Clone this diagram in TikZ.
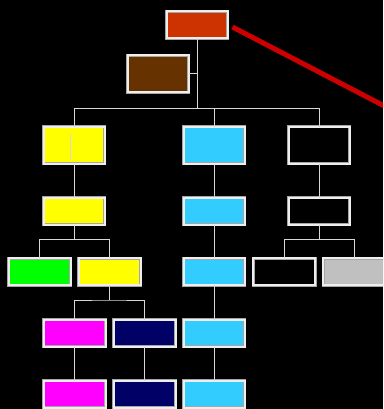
\documentclass[tikz,border=0pt]{standalone}
\usetikzlibrary{calc}
\definecolor{cTop}{HTML}{CC3300}
\definecolor{cBrown}{HTML}{663300}
\definecolor{cYel}{HTML}{FFFF00}
\definecolor{cCyan}{HTML}{33CCFF}
\definecolor{cGreen}{HTML}{00FF00}
\definecolor{cMag}{HTML}{FF00FF}
\definecolor{cNavy}{HTML}{000066}
\definecolor{cGray}{HTML}{C0C0C0}
\definecolor{cBorder}{HTML}{EEEEEE}
\definecolor{cLine}{HTML}{D8D8D8}
\definecolor{cRed}{HTML}{CC0000}
\tikzset{
  box/.style={draw=gray!70, double=cBorder, double distance=2pt, line width=0.5pt,
    inner sep=0pt, outer sep=0pt, minimum width=61pt, minimum height=27pt},
  tall/.style={minimum height=37pt},
  conn/.style={draw=cLine, line width=1pt},
  redline/.style={draw=cRed, line width=5pt}
}
\begin{document}
\begin{tikzpicture}[x=1pt,y=-1pt]
\useasboundingbox (0,0) rectangle (383,409);
\clip (0,0) rectangle (383,409);
\fill[black] (0,0) rectangle (383,409);
% nodes
\node[box, fill=cTop] (top) at (197,25) {};
\node[box, tall, fill=cBrown] (brown) at (158,74) {};
\node[box, tall, fill=cYel] (y1) at (74,145) {};
\node[box, tall, fill=cCyan] (c1) at (214,145) {};
\node[box, tall, fill=black] (k1) at (319,145) {};
\node[box, fill=cYel] (y2) at (74,211) {};
\node[box, fill=cCyan] (c2) at (214,211) {};
\node[box, fill=black] (k2) at (319,211) {};
\node[box, minimum width=62pt, fill=cGreen] (g3) at (39.5,271.5) {};
\node[box, minimum width=62pt, fill=cYel] (y3) at (109.5,271.5) {};
\node[box, fill=cCyan] (c3) at (214,271.5) {};
\node[box, minimum width=62pt, fill=black] (k3) at (284,271.5) {};
\node[box, minimum width=62pt, fill=cGray] (s3) at (354,271.5) {};
\node[box, minimum width=62pt, fill=cMag] (m4) at (74.5,333) {};
\node[box, minimum width=62pt, fill=cNavy] (n4) at (144.5,333) {};
\node[box, fill=cCyan] (c4) at (214,333) {};
\node[box, minimum width=62pt, fill=cMag] (m5) at (74.5,394) {};
\node[box, minimum width=62pt, fill=cNavy] (n5) at (144.5,394) {};
\node[box, fill=cCyan] (c5) at (214,394) {};
% connectors
\draw[conn] (top.south) -- ++(0,70) coordinate (j0);
\draw[conn] (brown.east) -- (brown.east -| top.south);
\draw[conn] (y1.north) |- (j0) -| (k1.north);
\draw[conn] (c1.north) -- (c1.north |- j0);
\draw[conn] ($(y1.north)+(-4,7)$) -- ($(y1.south)+(-4,-4)$);
\draw[conn] (y1.south) -- (y2.north);
\draw[conn] (c1.south) -- (c2.north);
\draw[conn] (k1.south) -- (k2.north);
\draw[conn] (y2.south) -- ++(0,15) coordinate (j1);
\draw[conn] (g3.north) |- (j1) -| (y3.north);
\draw[conn] (k2.south) -- ++(0,15) coordinate (j2);
\draw[conn] (k3.north) |- (j2) -| (s3.north);
\draw[conn] (c2.south) -- (c3.north);
\draw[conn] (y3.south) -- ++(0,15) coordinate (j3);
\draw[conn] (m4.north) |- (j3) -| (n4.north);
\draw[conn] (c3.south) -- (c4.north);
\draw[conn] (m4.south) -- (m5.north);
\draw[conn] (n4.south) -- (n5.north);
\draw[conn] (c4.south) -- (c5.north);
% red line
\draw[redline] ($(top.east)+(5,2)$) coordinate (r0) -- (392,110) coordinate (r1);
\end{tikzpicture}
\end{document}
